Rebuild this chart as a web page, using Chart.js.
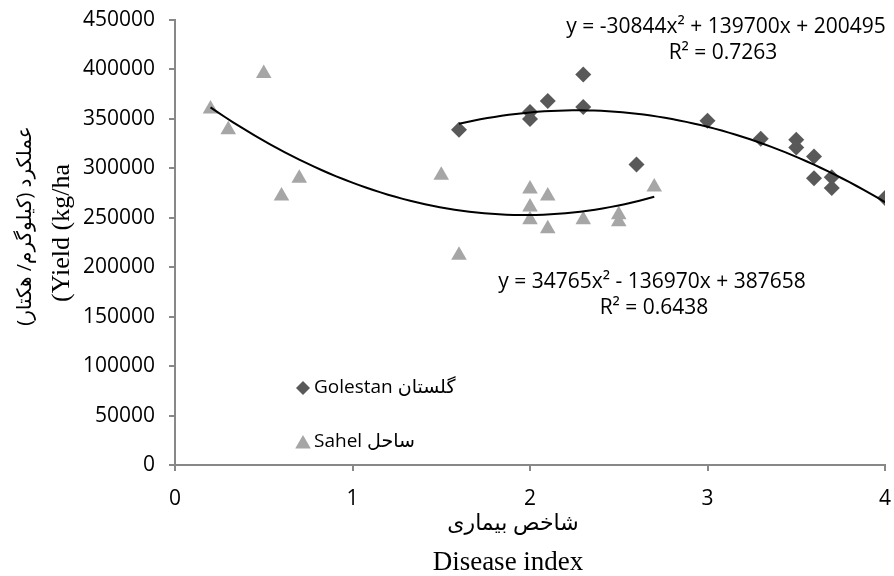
<!DOCTYPE html>
<html>
<head>
<meta charset="utf-8">
<script src="https://cdn.jsdelivr.net/npm/chart.js@4.4.1/dist/chart.umd.min.js"></script>
<style>
  body { margin: 0; background: #fff; }
  #chart-container { width: 894px; height: 576px; }
</style>
</head>
<body>
<div id="chart-container"><canvas id="chart" width="894" height="576"></canvas></div>
<script>
// Golestan points (disease index, yield)
const golestanX = [1.6, 2.0, 2.0, 2.1, 2.3, 2.3, 2.6, 3.0, 3.3, 3.5, 3.5, 3.6, 3.6, 3.7, 3.7, 4.0];
const golestanY = [339000, 357000, 350000, 368000, 395000, 362000, 304000, 348000, 330000, 329000, 321000, 312000, 290000, 291000, 280000, 270000];

// Sahel points
const sahelX = [0.2, 0.3, 0.5, 0.6, 0.7, 1.5, 1.6, 2.0, 2.0, 2.0, 2.1, 2.1, 2.3, 2.5, 2.5, 2.7];
const sahelY = [360000, 339000, 396000, 272000, 290000, 293000, 212000, 279000, 261000, 248000, 272000, 239000, 248000, 253000, 246000, 281000];

// polynomial trendlines as printed on the chart: [a, b, c] for a*x^2 + b*x + c
const golestanFit = [-30844, 139700, 200495];
const golestanFitRange = [1.6, 4.0];
const sahelFit = [34765, -136970, 387658];
const sahelFitRange = [0.2, 2.7];

const golestanEquation = ['y = -30844x² + 139700x + 200495', 'R² = 0.7263'];
const sahelEquation = ['y = 34765x² - 136970x + 387658', 'R² = 0.6438'];

const legendLabels = ['Golestan گلستان', 'Sahel ساحل'];
const xTitleFa = 'شاخص بیماری';
const xTitleEn = 'Disease index';
const yTitleFa = 'عملکرد (کیلوگرم/ هکتار)';
const yTitleEn = '(Yield (kg/ha';

const xMin = 0, xMax = 4, xStep = 1;
const yMin = 0, yMax = 450000, yStep = 50000;

const darkGrey = '#595959';
const lightGrey = '#a6a6a6';
const axisGrey = '#888888';
const sans = "'Open Sans', 'DejaVu Sans', sans-serif";
const serif = "'Liberation Serif', 'DejaVu Serif', serif";

function toPoints(xs, ys) {
    return xs.map((x, i) => ({ x: x, y: ys[i] }));
}

function fitCurve(coef, range) {
    let pts = [];
    const n = 60;
    for (let i = 0; i <= n; i++) {
        const x = range[0] + (range[1] - range[0]) * i / n;
        pts.push({ x: x, y: coef[0] * x * x + coef[1] * x + coef[2] });
    }
    return pts;
}

function diamond(ctx, x, y, r) {
    ctx.beginPath();
    ctx.moveTo(x - r, y);
    ctx.lineTo(x, y - r);
    ctx.lineTo(x + r, y);
    ctx.lineTo(x, y + r);
    ctx.closePath();
    ctx.fill();
}

function triangle(ctx, x, y, r) {
    ctx.beginPath();
    ctx.moveTo(x, y - r);
    ctx.lineTo(x + r * 0.866, y + r / 2);
    ctx.lineTo(x - r * 0.866, y + r / 2);
    ctx.closePath();
    ctx.fill();
}

const chartTexts = {
    id: 'chartTexts',
    afterDraw(chart) {
        const ctx = chart.ctx;
        ctx.save();
        ctx.fillStyle = '#000';
        ctx.textBaseline = 'middle';
        ctx.textAlign = 'center';

        // trendline equations
        ctx.font = '21px ' + sans;
        ctx.fillText(golestanEquation[0], 726, 27);
        ctx.fillText(golestanEquation[1], 723, 53);
        ctx.fillText(sahelEquation[0], 652, 282);
        ctx.fillText(sahelEquation[1], 654, 308);

        // legend inside the plot
        ctx.fillStyle = darkGrey;
        diamond(ctx, 303, 388, 7);
        ctx.fillStyle = lightGrey;
        triangle(ctx, 303, 444, 9);
        ctx.fillStyle = '#000';
        ctx.textAlign = 'left';
        ctx.font = '19px ' + sans;
        ctx.fillText(legendLabels[0], 314, 388);
        ctx.fillText(legendLabels[1], 314, 442);

        // x axis titles
        ctx.textAlign = 'center';
        ctx.font = '22px ' + sans;
        ctx.direction = 'rtl';
        ctx.fillText(xTitleFa, 513, 524);
        ctx.direction = 'ltr';
        ctx.font = '27px ' + serif;
        ctx.fillText(xTitleEn, 508, 563);

        // y axis titles, rotated
        ctx.save();
        ctx.translate(25, 226);
        ctx.rotate(-Math.PI / 2);
        ctx.font = '20px ' + sans;
        ctx.direction = 'rtl';
        ctx.fillText(yTitleFa, 0, 0);
        ctx.restore();

        ctx.save();
        ctx.translate(62, 233);
        ctx.rotate(-Math.PI / 2);
        ctx.font = '26px ' + serif;
        ctx.direction = 'ltr';
        ctx.fillText(yTitleEn, 0, 0);
        ctx.restore();

        ctx.restore();
    }
};

const ctx = document.getElementById('chart').getContext('2d');
new Chart(ctx, {
    type: 'scatter',
    data: {
        datasets: [
            {
                label: 'Golestan trend',
                data: fitCurve(golestanFit, golestanFitRange),
                showLine: true,
                borderColor: '#000',
                borderWidth: 2,
                pointRadius: 0,
                order: 0
            },
            {
                label: 'Sahel trend',
                data: fitCurve(sahelFit, sahelFitRange),
                showLine: true,
                borderColor: '#000',
                borderWidth: 2,
                pointRadius: 0,
                order: 0
            },
            {
                label: legendLabels[0],
                data: toPoints(golestanX, golestanY),
                pointStyle: 'rectRot',
                pointRadius: 8,
                backgroundColor: darkGrey,
                borderColor: darkGrey,
                borderWidth: 0,
                order: 1
            },
            {
                label: legendLabels[1],
                data: toPoints(sahelX, sahelY),
                pointStyle: 'triangle',
                pointRadius: 9,
                backgroundColor: lightGrey,
                borderColor: lightGrey,
                borderWidth: 0,
                order: 2
            }
        ]
    },
    options: {
        responsive: false,
        animation: false,
        devicePixelRatio: 1,
        layout: {
            padding: { left: 0, top: 20, right: 3, bottom: 0 }
        },
        plugins: {
            legend: { display: false },
            tooltip: { enabled: false }
        },
        scales: {
            x: {
                type: 'linear',
                min: xMin,
                max: xMax,
                ticks: {
                    stepSize: xStep,
                    color: '#000',
                    padding: 15,
                    font: { family: sans, size: 21 },
                    callback: (v) => String(v)
                },
                grid: {
                    drawOnChartArea: false,
                    drawTicks: true,
                    tickLength: 6,
                    color: axisGrey,
                    lineWidth: 2
                },
                border: { color: axisGrey, width: 2 },
                afterFit: function (scale) {
                    scale.height = 111;
                    scale.paddingLeft = 0;
                    scale.paddingRight = 0;
                }
            },
            y: {
                min: yMin,
                max: yMax,
                ticks: {
                    stepSize: yStep,
                    color: '#000',
                    padding: 14,
                    font: { family: sans, size: 21 },
                    callback: (v) => String(v)
                },
                grid: {
                    drawOnChartArea: false,
                    drawTicks: true,
                    tickLength: 6,
                    color: axisGrey,
                    lineWidth: 2
                },
                border: { color: axisGrey, width: 2 },
                afterFit: function (scale) {
                    scale.width = 175;
                    scale.paddingTop = 0;
                    scale.paddingBottom = 0;
                }
            }
        }
    },
    plugins: [chartTexts]
});
</script>
</body>
</html>
